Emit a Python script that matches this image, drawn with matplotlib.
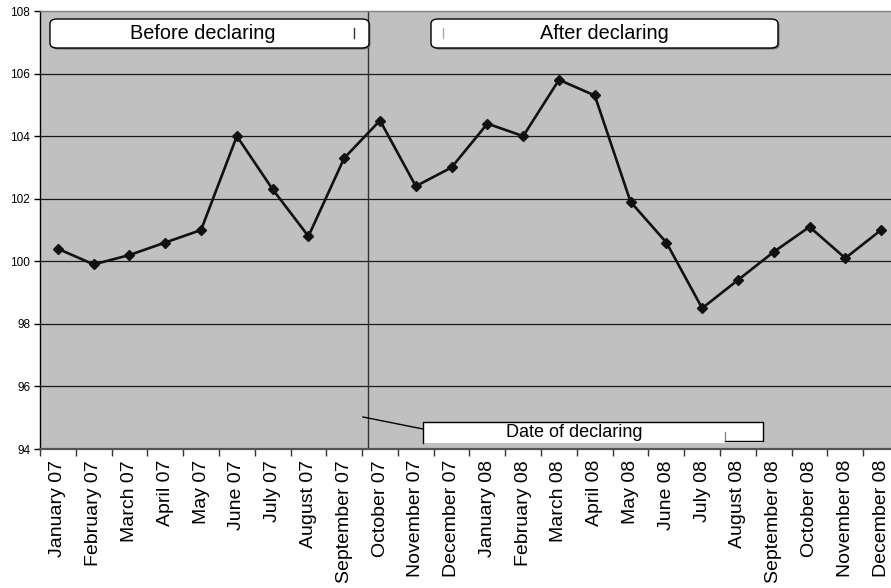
import matplotlib
matplotlib.use("Agg")
import matplotlib.pyplot as plt
from matplotlib.patches import FancyBboxPatch, Rectangle
from matplotlib.lines import Line2D

plt.rcParams['font.family'] = ['Liberation Sans', 'DejaVu Sans']

months = ["January 07", "February 07", "March 07", "April 07", "May 07", "June 07",
          "July 07", "August 07", "September 07", "October 07", "November 07", "December 07",
          "January 08", "February 08", "March 08", "April 08", "May 08", "June 08",
          "July 08", "August 08", "September 08", "October 08", "November 08", "December 08"]
values = [100.4, 99.9, 100.2, 100.6, 101.0, 104.0,
          102.3, 100.8, 103.3, 104.5, 102.4, 103.0,
          104.4, 104.0, 105.8, 105.3, 101.9, 100.6,
          98.5, 99.4, 100.3, 101.1, 100.1, 101.0]
y_ticks = [94, 96, 98, 100, 102, 104, 106, 108]
declare_pos = 8.66  # between September and October 07

W, H = 891, 588
fig = plt.figure(figsize=(W / 100, H / 100), dpi=100)


def px(x, y):
    # pixel position (top-left origin) -> figure fraction
    return x / W, 1 - y / H


ax = fig.add_axes([40 / W, (H - 449) / H, 859 / W, 438 / H])
ax.set_facecolor('#c0c0c0')

x = list(range(len(months)))
for yv in y_ticks[1:-1]:
    ax.axhline(yv, color='#1a1a1a', lw=0.9, zorder=1)
ax.axvline(declare_pos, color='#333333', lw=1.0, zorder=1)

ax.plot(x, values, color='#111111', lw=1.9, marker='D', markersize=5.5,
        markerfacecolor='#111111', markeredgecolor='#111111', zorder=3)

ax.set_xlim(-0.5, len(months) - 0.5)
ax.set_ylim(94, 108)
ax.set_yticks(y_ticks)
ax.set_yticklabels([str(v) for v in y_ticks], fontsize=8.5)
ax.set_xticks([i - 0.5 for i in range(len(months) + 1)])
ax.set_xticklabels([])
ax.set_xticks(x, minor=True)
ax.set_xticklabels(months, minor=True, rotation=90, fontsize=14, va='top', ha='center')
ax.tick_params(axis='x', which='minor', length=0, pad=8)
ax.tick_params(axis='x', which='major', length=5, width=1, color='#333333')
ax.tick_params(axis='y', length=4, width=1, pad=3)

ax.spines['left'].set_color('black')
ax.spines['left'].set_linewidth(1)
ax.spines['bottom'].set_color('#555555')
ax.spines['bottom'].set_linewidth(1.6)
ax.spines['top'].set_color('#808080')
ax.spines['top'].set_linewidth(1)
ax.spines['right'].set_visible(False)


def label_box(x0, y0, x1, y1, text, size, text_x):
    # rounded white box with a soft drop shadow
    (fx0, fy1), (fx1, fy0) = px(x0, y0), px(x1, y1)
    shadow = FancyBboxPatch((fx0 + 1.5 / W, fy0 - 1.5 / H), fx1 - fx0, fy1 - fy0,
                            boxstyle="round,pad=0,rounding_size=0.008",
                            transform=fig.transFigure, facecolor='#707070',
                            edgecolor='none', zorder=5)
    box = FancyBboxPatch((fx0, fy0), fx1 - fx0, fy1 - fy0,
                         boxstyle="round,pad=0,rounding_size=0.008",
                         transform=fig.transFigure, facecolor='white',
                         edgecolor='black', lw=1, zorder=6)
    fig.patches.extend([shadow, box])
    fig.text(text_x / W, (fy0 + fy1) / 2, text, fontsize=size,
             ha='center', va='center', zorder=7)


label_box(50, 19, 369, 48, "Before declaring", 14.3, 203)
label_box(431, 19, 778, 48, "After declaring", 14.3, 604)

# cursor marks left in the label boxes
fig.lines.append(Line2D(*zip(px(354, 28), px(354, 38)), transform=fig.transFigure,
                        color='#333333', lw=1, zorder=8))
fig.lines.append(Line2D(*zip(px(443, 28), px(443, 38)), transform=fig.transFigure,
                        color='#aaaaaa', lw=1, zorder=8))

# "Date of declaring" callout with leader line
bx0, by1 = px(423, 422)
bx1, by0 = px(763, 443)
fig.patches.append(Rectangle((bx0, by0), bx1 - bx0, by1 - by0, transform=fig.transFigure,
                             facecolor='white', edgecolor='none', zorder=5))
fig.lines.append(Line2D(*zip(px(423, 443), px(423, 422), px(763, 422), px(763, 441),
                             px(725, 441)),
                        transform=fig.transFigure, color='black', lw=1, zorder=6))
fig.lines.append(Line2D(*zip(px(725, 432), px(725, 440)), transform=fig.transFigure,
                        color='#888888', lw=1, zorder=6))
fig.lines.append(Line2D(*zip(px(363, 417), px(423, 429)), transform=fig.transFigure,
                        color='black', lw=1, zorder=6))
fig.text(574 / W, (by0 + by1) / 2, "Date of declaring",
         fontsize=13, ha='center', va='center', zorder=7)

fig.savefig("out.png", dpi=100)
